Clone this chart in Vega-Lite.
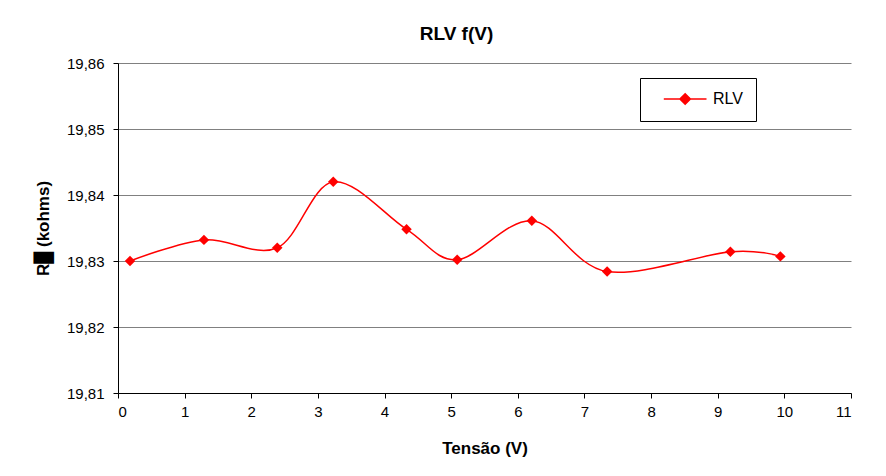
{
  "$schema": "https://vega.github.io/schema/vega-lite/v6.json",
  "width": 733,
  "height": 330,
  "autosize": {"type": "none"},
  "padding": {"left": 118, "top": 63, "right": 35, "bottom": 83},
  "background": "white",
  "config": {
    "font": "Liberation Sans",
    "view": {"stroke": null},
    "locale": {"number": {"decimal": ",", "thousands": ".", "grouping": [3], "currency": ["", ""]}},
    "axis": {
      "labelFont": "Liberation Sans",
      "labelFontSize": 15,
      "labelColor": "#000000",
      "titleFont": "Liberation Sans",
      "titleFontSize": 17,
      "titleFontWeight": "bold",
      "titleColor": "#000000",
      "domainColor": "#000000",
      "tickColor": "#000000",
      "tickSize": 5
    }
  },
  "title": {
    "text": "RLV  f(V)",
    "font": "Liberation Sans",
    "fontSize": 19,
    "fontWeight": "bold",
    "color": "#000000",
    "anchor": "middle",
    "offset": 12,
    "dx": -28
  },
  "data": {
    "values": [
      {"tensao": 0.18, "r": 19.8300, "serie": "RLV"},
      {"tensao": 1.29, "r": 19.8332, "serie": "RLV"},
      {"tensao": 2.39, "r": 19.8320, "serie": "RLV"},
      {"tensao": 3.23, "r": 19.8420, "serie": "RLV"},
      {"tensao": 4.33, "r": 19.8348, "serie": "RLV"},
      {"tensao": 5.09, "r": 19.8302, "serie": "RLV"},
      {"tensao": 6.21, "r": 19.8361, "serie": "RLV"},
      {"tensao": 7.34, "r": 19.8284, "serie": "RLV"},
      {"tensao": 9.19, "r": 19.8314, "serie": "RLV"},
      {"tensao": 9.94, "r": 19.8307, "serie": "RLV"}
    ]
  },
  "encoding": {
    "x": {
      "field": "tensao",
      "type": "quantitative",
      "title": "Tensão (V)",
      "scale": {"domain": [0, 11], "nice": false, "zero": false},
      "axis": {"values": [0,1,2,3,4,5,6,7,8,9,10,11], "grid": false, "labelPadding": 6, "titlePadding": 21}
    },
    "y": {
      "field": "r",
      "type": "quantitative",
      "title": "R█ (kohms)",
      "scale": {"domain": [19.81, 19.86], "nice": false, "zero": false},
      "axis": {"values": [19.81, 19.82, 19.83, 19.84, 19.85, 19.86], "format": ".2f", "grid": true, "gridColor": "#808080", "gridWidth": 1, "labelPadding": 9, "titlePadding": 14}
    },
    "color": {
      "field": "serie",
      "type": "nominal",
      "scale": {"range": ["#FF0000"]},
      "legend": {
        "title": null,
        "orient": "none",
        "legendX": 522,
        "legendY": 15,
        "strokeColor": "#000000",
        "fillColor": "#FFFFFF",
        "padding": 13,
        "labelFont": "Liberation Sans",
        "labelFontSize": 16,
        "labelColor": "#000000",
        "labelExpr": "datum.label + '      '",
        "symbolType": "M0.4,0H6.5M3.45,-0.75L4.2,0L3.45,0.75L2.7,0Z",
        "symbolSize": 196,
        "symbolStrokeWidth": 1.5,
        "symbolStrokeColor": "#FF0000",
        "symbolFillColor": "#FF0000",
        "labelOffset": 44,
        "encode": {"symbols": {"update": {"fill": {"value": "#FF0000"}, "stroke": {"value": "#FF0000"}, "opacity": {"value": 1}}}}
      }
    }
  },
  "layer": [
    {"mark": {"type": "line", "interpolate": "cardinal", "strokeWidth": 1.5}},
    {"mark": {"type": "point", "shape": "diamond", "filled": true, "size": 110, "opacity": 1}}
  ]
}
